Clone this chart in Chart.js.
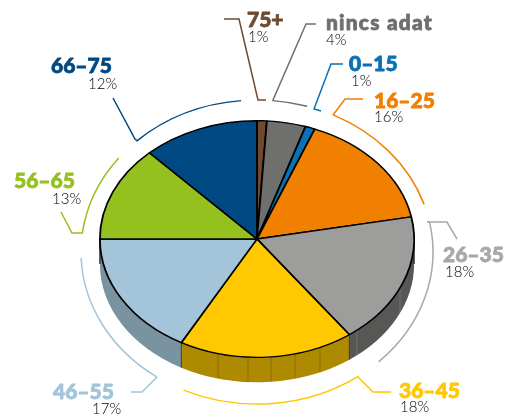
<!DOCTYPE html>
<html>
<head>
<meta charset="utf-8">
<style>
  html, body { margin: 0; padding: 0; background: #fff; overflow: hidden; }
  canvas { display: block; }
</style>
</head>
<body>
<canvas id="grafico" width="510" height="415"></canvas>
<script src="https://cdn.jsdelivr.net/npm/chart.js@4"></script>
<script>
// Datos
const categories = ['75+', 'nincs adat', '0–15', '16–25', '26–35', '36–45', '46–55', '56–65', '66–75'];
const shares = [1, 4, 1, 16, 18, 18, 17, 13, 12];

const sliceColors = ['#6f4a2f', '#6f6f6e', '#0a71b4', '#f18000', '#9d9d9c', '#ffc800', '#a3c4d9', '#95c11f', '#004a84'];
const wallColors = ['#4a3120', '#4a4a4a', '#064b78', '#a05500', '#575756', '#ae8a00', '#7a93a1', '#638014', '#003158'];
const labelColors = ['#6f4a2f', '#6f6f6e', '#0a71b4', '#f18000', '#a8a8a7', '#ffc800', '#a3c4d9', '#95c11f', '#004a84'];

// Posicion de los textos: [x nombre, base nombre, x %, base %]
const labelPos = [
    [247, 27, 248, 42],
    [326, 30, 326, 45],
    [349, 71, 351, 86],
    [374, 108, 374, 122],
    [443, 262, 445, 277],
    [399, 398, 400, 412],
    [53, 399, 92, 414],
    [14, 188, 52, 204],
    [51, 73, 88, 89]
];

// Lineas guia: puntos y, si hay, final del arco exterior
const leaders = [
    { pts: [[224, 19], [239, 19], [258, 100], [266, 100]] },
    { pts: [[316, 24], [306, 24], [273, 100]], arcEnd: [307, 107] },
    { pts: [[343, 64], [331, 64], [314, 109], [321, 111]] },
    { pts: [[363, 99], [345, 99], [333, 115]], arcEnd: [422, 205] },
    { pts: [[457, 239], [447, 222], [427, 222]], arcEnd: [380, 363] },
    { pts: [[391, 392], [373, 392], [359, 378]], arcEnd: [183, 391] },
    { pts: [[131, 392], [142, 392], [157, 377]], arcEnd: [82, 258] },
    { pts: [[61, 212], [72, 233], [83, 233]], arcEnd: [116, 156] },
    { pts: [[113, 98], [135, 139]], arcEnd: [241, 100] }
];

const squash = 0.753;
const depth = 25;
const ring = { x: 257, y: 252, rx: 176, ry: 152 };
const wallStripes = [218, 248, 271, 295, 320, 357, 400];

// Pared lateral, aplastar la tarta y dejarlo como estaba al acabar
const pie3d = {
    id: 'pie3d',
    beforeDatasetsDraw(chart) {
        const ctx = chart.ctx;
        const arcs = chart.getDatasetMeta(0).data;
        const first = arcs[0].getProps(['x', 'y', 'outerRadius'], true);
        const cx = first.x, cy = first.y, r = first.outerRadius, ry = r * squash;

        arcs.forEach((arc, i) => {
            const p = arc.getProps(['startAngle', 'endAngle'], true);
            const a0 = Math.max(p.startAngle, 0);
            const a1 = Math.min(p.endAngle, Math.PI);
            if (a1 <= a0) return;
            ctx.beginPath();
            ctx.ellipse(cx, cy, r, ry, 0, a0, a1);
            ctx.ellipse(cx, cy + depth, r, ry, 0, a1, a0, true);
            ctx.closePath();
            ctx.fillStyle = wallColors[i];
            ctx.fill();
            if (a0 > 0) {
                ctx.beginPath();
                ctx.moveTo(cx + r * Math.cos(a0), cy + ry * Math.sin(a0));
                ctx.lineTo(cx + r * Math.cos(a0), cy + ry * Math.sin(a0) + depth);
                ctx.strokeStyle = '#3a3a3a';
                ctx.lineWidth = 1;
                ctx.stroke();
            }
        });

        wallStripes.forEach(x => {
            const y = cy + ry * Math.sqrt(1 - Math.pow((x - cx) / r, 2));
            ctx.beginPath();
            ctx.moveTo(x, y);
            ctx.lineTo(x, y + depth);
            // en la parte amarilla son mas oscuras, en la gris mas claras
            ctx.strokeStyle = x < 345 ? 'rgba(70,50,0,0.3)' : 'rgba(255,255,255,0.16)';
            ctx.lineWidth = 1;
            ctx.stroke();
        });

        // Bordes negros a los lados
        ctx.beginPath();
        ctx.moveTo(cx - r, cy);
        ctx.lineTo(cx - r, cy + depth);
        ctx.moveTo(cx + r, cy);
        ctx.lineTo(cx + r, cy + depth);
        ctx.strokeStyle = '#222';
        ctx.lineWidth = 1.2;
        ctx.stroke();

        ctx.save();
        ctx.translate(0, cy);
        ctx.scale(1, squash);
        ctx.translate(0, -cy);
    },
    afterDatasetsDraw(chart) {
        chart.ctx.restore();
    },
    afterDraw(chart) {
        const ctx = chart.ctx;
        leaders.forEach((l, i) => {
            ctx.beginPath();
            l.pts.forEach((pt, j) => j ? ctx.lineTo(pt[0], pt[1]) : ctx.moveTo(pt[0], pt[1]));
            if (l.arcEnd) {
                const last = l.pts[l.pts.length - 1];
                const from = Math.atan2((last[1] - ring.y) / ring.ry, (last[0] - ring.x) / ring.rx);
                const to = Math.atan2((l.arcEnd[1] - ring.y) / ring.ry, (l.arcEnd[0] - ring.x) / ring.rx);
                let delta = to - from;
                if (delta > Math.PI) delta -= Math.PI * 2;
                if (delta < -Math.PI) delta += Math.PI * 2;
                ctx.ellipse(ring.x, ring.y, ring.rx, ring.ry, 0, from, from + delta, delta < 0);
            }
            ctx.strokeStyle = labelColors[i];
            ctx.lineWidth = 1.5;
            ctx.stroke();
        });

        ctx.textAlign = 'left';
        ctx.textBaseline = 'alphabetic';
        ctx.lineJoin = 'round';
        categories.forEach((name, i) => {
            const pos = labelPos[i];
            ctx.font = '900 21px Lato';
            ctx.letterSpacing = name === 'nincs adat' ? '1.2px' : '0px';
            ctx.fillStyle = labelColors[i];
            ctx.strokeStyle = labelColors[i];
            ctx.lineWidth = 0.8;
            ctx.fillText(name, pos[0], pos[1]);
            ctx.strokeText(name, pos[0], pos[1]);
            ctx.letterSpacing = '0px';
            ctx.font = '300 15px Lato';
            ctx.fillStyle = '#000';
            ctx.fillText(shares[i] + '%', pos[2], pos[3]);
        });
    }
};

new Chart(document.getElementById('grafico').getContext('2d'), {
    type: 'pie',
    data: {
        labels: categories,
        datasets: [{
            data: shares,
            backgroundColor: sliceColors,
            borderColor: '#000',
            borderWidth: 1.8,
            hoverOffset: 0
        }]
    },
    options: {
        responsive: false,
        animation: false,
        layout: { padding: { left: 99, right: 95, top: 81, bottom: 18 } },
        plugins: { legend: { display: false }, tooltip: { enabled: false } }
    },
    plugins: [pie3d]
});
</script>
</body>
</html>
